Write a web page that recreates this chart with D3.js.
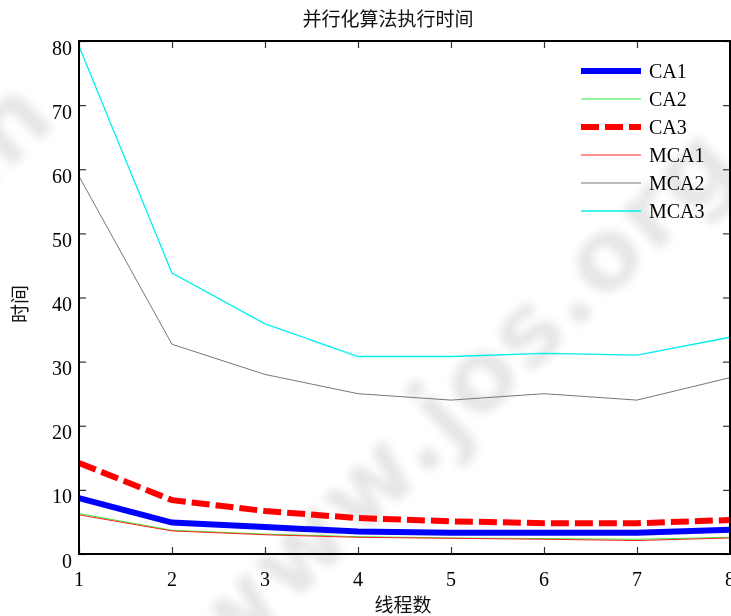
<!DOCTYPE html>
<html>
<head>
<meta charset="utf-8">
<script src="https://cdn.jsdelivr.net/npm/d3@7"></script>
<style>
html,body{margin:0;padding:0;background:#fff;}
svg{display:block;}
</style>
</head>
<body>
<script>
// ---- data ----
const threads = [1, 2, 3, 4, 5, 6, 7, 8];
const CA1  = [8.7, 4.9, 4.2, 3.5, 3.3, 3.3, 3.3, 3.8];
const CA2  = [6.3, 3.7, 3.1, 2.7, 2.5, 2.4, 2.3, 2.6];
const CA3  = [14.2, 8.4, 6.7, 5.6, 5.1, 4.8, 4.8, 5.3];
const MCA1 = [6.1, 3.6, 3.0, 2.6, 2.45, 2.3, 2.1, 2.5];
const MCA2 = [58.9, 32.7, 28.0, 25.0, 24.0, 25.0, 24.0, 27.5];
const MCA3 = [79.2, 43.8, 35.9, 30.8, 30.8, 31.3, 31.0, 33.8];
const seriesNames = ["CA1", "CA2", "CA3", "MCA1", "MCA2", "MCA3"];
const seriesValues = [CA1, CA2, CA3, MCA1, MCA2, MCA3];
const xTicks = [1, 2, 3, 4, 5, 6, 7, 8];
const yTicks = [0, 10, 20, 30, 40, 50, 60, 70, 80];
const title = "并行化算法执行时间";
const xLabel = "线程数";
const yLabel = "时间";
const watermark = "www.jos.org.cn";

// ---- styles ----
const styles = {
  CA1:  {color: "#0000ff", width: 6, dash: null},
  CA2:  {color: "#33ee33", width: 1, dash: null},
  CA3:  {color: "#ff0000", width: 6, dash: "18,6"},
  MCA1: {color: "#ff2020", width: 1, dash: null},
  MCA2: {color: "#777777", width: 1, dash: null},
  MCA3: {color: "#00f0f0", width: 1.3, dash: null}
};

const W = 731, H = 616;
const L = 79, R = 730, T = 41, B = 554;

const svg = d3.select("body").append("svg").attr("width", W).attr("height", H);

// faint blurred watermark
const defs = svg.append("defs");
defs.append("filter").attr("id", "blur").attr("x", "-20%").attr("y", "-20%").attr("width", "140%").attr("height", "140%")
  .append("feGaussianBlur").attr("stdDeviation", 4);
const wm = svg.append("g").attr("filter", "url(#blur)").attr("opacity", 0.13);
[[521, 335], [-290, 410]].forEach(([cx, cy]) => {
  wm.append("text")
    .attr("transform", `translate(${cx},${cy}) rotate(-44)`)
    .attr("text-anchor", "middle")
    .attr("dominant-baseline", "central")
    .attr("font-family", "DejaVu Sans")
    .attr("font-weight", "bold")
    .attr("font-size", 100)
    .attr("textLength", 900)
    .attr("lengthAdjust", "spacing")
    .attr("fill", "#444")
    .text(watermark);
});

const x = d3.scaleLinear().domain([1, 8]).range([L, R]);
const y = d3.scaleLinear().domain([0, 80]).range([B, T]);

const serif = "'Liberation Serif', 'Times New Roman', serif";
const cjk = "'Noto Sans CJK SC', sans-serif";

// lines
const line = d3.line().x((d, i) => x(threads[i])).y(d => y(d));
seriesNames.forEach((name, k) => {
  const s = styles[name];
  svg.append("path")
    .attr("d", line(seriesValues[k]))
    .attr("fill", "none")
    .attr("stroke", s.color)
    .attr("stroke-width", s.width)
    .attr("stroke-dasharray", s.dash)
    .attr("stroke-linejoin", "miter");
});

// axes (inward ticks, box)
const tickLen = 7;
const ax = svg.append("g");
const xb = d3.axisBottom(x).tickValues(xTicks).tickSize(-tickLen).tickPadding(0).tickFormat("");
const xt = d3.axisTop(x).tickValues(xTicks).tickSize(-tickLen).tickFormat("");
const yl = d3.axisLeft(y).tickValues(yTicks).tickSize(-tickLen).tickFormat("");
const yr = d3.axisRight(y).tickValues(yTicks).tickSize(-tickLen).tickFormat("");
ax.append("g").attr("transform", `translate(0,${B})`).call(xb);
ax.append("g").attr("transform", `translate(0,${T})`).call(xt);
ax.append("g").attr("transform", `translate(${L},0)`).call(yl);
ax.append("g").attr("transform", `translate(${R},0)`).call(yr);
ax.selectAll(".domain").remove();
ax.selectAll(".tick line").attr("stroke", "#333").attr("stroke-width", 1.2);
svg.append("rect").attr("x", L).attr("y", T).attr("width", R - L).attr("height", B - T)
  .attr("fill", "none").attr("stroke", "#000").attr("stroke-width", 2);

// tick labels
svg.append("g").selectAll("text").data(xTicks).join("text")
  .attr("x", d => x(d)).attr("y", 586)
  .attr("text-anchor", "middle")
  .attr("font-family", serif).attr("font-size", 20).attr("fill", "#000")
  .text(d => d);
svg.append("g").selectAll("text").data(yTicks).join("text")
  .attr("x", 72).attr("y", d => y(d) + 13.5)
  .attr("text-anchor", "end")
  .attr("font-family", serif).attr("font-size", 20).attr("fill", "#000")
  .text(d => d);

// title and axis labels
svg.append("text").attr("x", 388).attr("y", 26).attr("text-anchor", "middle")
  .attr("font-family", cjk).attr("font-size", 19).attr("fill", "#111").text(title);
svg.append("text").attr("x", 403).attr("y", 612).attr("text-anchor", "middle")
  .attr("font-family", cjk).attr("font-size", 19).attr("fill", "#111").text(xLabel);
svg.append("text").attr("transform", "translate(27,304) rotate(-90)").attr("text-anchor", "middle")
  .attr("font-family", cjk).attr("font-size", 19).attr("fill", "#111").text(yLabel);

// legend
const leg = svg.append("g");
const rowY = d3.scalePoint().domain(seriesNames).range([71, 211]);
seriesNames.forEach(name => {
  const s = styles[name];
  const yy = rowY(name);
  leg.append("line").attr("x1", 581).attr("x2", 641).attr("y1", yy).attr("y2", yy)
    .attr("stroke", s.color).attr("stroke-width", s.width).attr("stroke-dasharray", s.dash);
  leg.append("text").attr("x", 649).attr("y", yy + 6.5)
    .attr("font-family", serif).attr("font-size", 20).attr("fill", "#000").text(name);
});
</script>
</body>
</html>
